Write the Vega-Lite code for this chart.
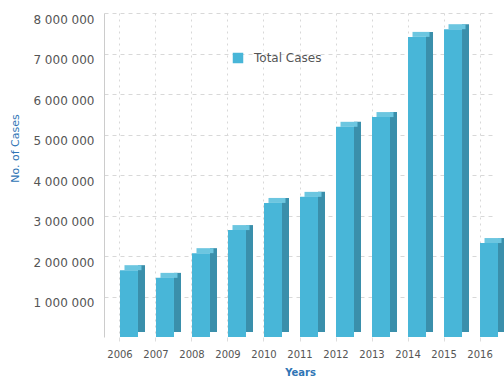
{
  "$schema": "https://vega.github.io/schema/vega-lite/v6.json",
  "width": 392,
  "height": 324,
  "autosize": {"type": "none"},
  "padding": {"left": 104, "top": 13, "right": 8, "bottom": 39},
  "background": "white",
  "data": {
    "values": [
      {"year": "2006", "cases": 1650000},
      {"year": "2007", "cases": 1460000},
      {"year": "2008", "cases": 2070000},
      {"year": "2009", "cases": 2640000},
      {"year": "2010", "cases": 3310000},
      {"year": "2011", "cases": 3460000},
      {"year": "2012", "cases": 5190000},
      {"year": "2013", "cases": 5430000},
      {"year": "2014", "cases": 7410000},
      {"year": "2015", "cases": 7600000},
      {"year": "2016", "cases": 2320000}
    ]
  },
  "encoding": {
    "x": {
      "field": "year",
      "type": "ordinal",
      "scale": {"paddingInner": 0.5, "paddingOuter": 0.194},
      "axis": {
        "title": "Years",
        "labelAngle": 0,
        "labelFont": "DejaVu Sans",
        "labelFontSize": 10,
        "labelColor": "#555555",
        "labelPadding": 8,
        "tickSize": 4,
        "tickColor": "#dddddd",
        "domain": false,
        "grid": true,
        "gridColor": "#d8d8d8",
        "gridDash": [2, 4],
        "titleFont": "DejaVu Sans",
        "titleFontSize": 10,
        "titleFontWeight": "bold",
        "titleColor": "#2f75b5",
        "titlePadding": 8
      }
    },
    "y": {
      "field": "cases",
      "type": "quantitative",
      "scale": {"domain": [0, 8000000], "nice": false},
      "axis": {
        "title": "No. of Cases",
        "values": [1000000, 2000000, 3000000, 4000000, 5000000, 6000000, 7000000, 8000000],
        "format": ",d",
        "labelFont": "DejaVu Sans",
        "labelFontSize": 12,
        "labelColor": "#555555",
        "labelOffset": 6,
        "labelPadding": 10,
        "ticks": false,
        "domainColor": "#cccccc",
        "grid": true,
        "gridColor": "#d8d8d8",
        "gridDash": [4, 4],
        "titleFont": "DejaVu Sans",
        "titleFontSize": 11,
        "titleFontWeight": "normal",
        "titleColor": "#2f75b5",
        "titleX": -89,
        "titleY": 135,
        "titleAngle": -90,
        "titleAlign": "center",
        "titleBaseline": "middle"
      }
    }
  },
  "layer": [
    {
      "mark": {"type": "bar", "color": "#3a8fab", "width": 7, "xOffset": 21.5, "yOffset": -5, "y2Offset": -5}
    },
    {
      "mark": {"type": "bar", "color": "#6cc6e0", "width": 17, "xOffset": 13, "yOffset": -5, "y2Offset": 0},
      "encoding": {"y2": {"field": "cases"}}
    },
    {
      "mark": {"type": "bar", "xOffset": 9, "width": 18},
      "encoding": {
        "color": {
          "datum": "Total Cases",
          "scale": {"range": ["#48b6d8"]},
          "legend": {
            "title": null,
            "orient": "none",
            "legendX": 128,
            "legendY": 39,
            "symbolType": "square",
            "symbolSize": 110,
            "symbolStrokeWidth": 0,
            "labelFont": "DejaVu Sans",
            "labelFontSize": 12,
            "labelColor": "#555555",
            "labelOffset": 10,
            "padding": 0
          }
        }
      }
    }
  ],
  "config": {
    "view": {"stroke": null},
    "locale": {"number": {"decimal": ".", "thousands": " ", "grouping": [3], "currency": ["", ""]}}
  }
}
